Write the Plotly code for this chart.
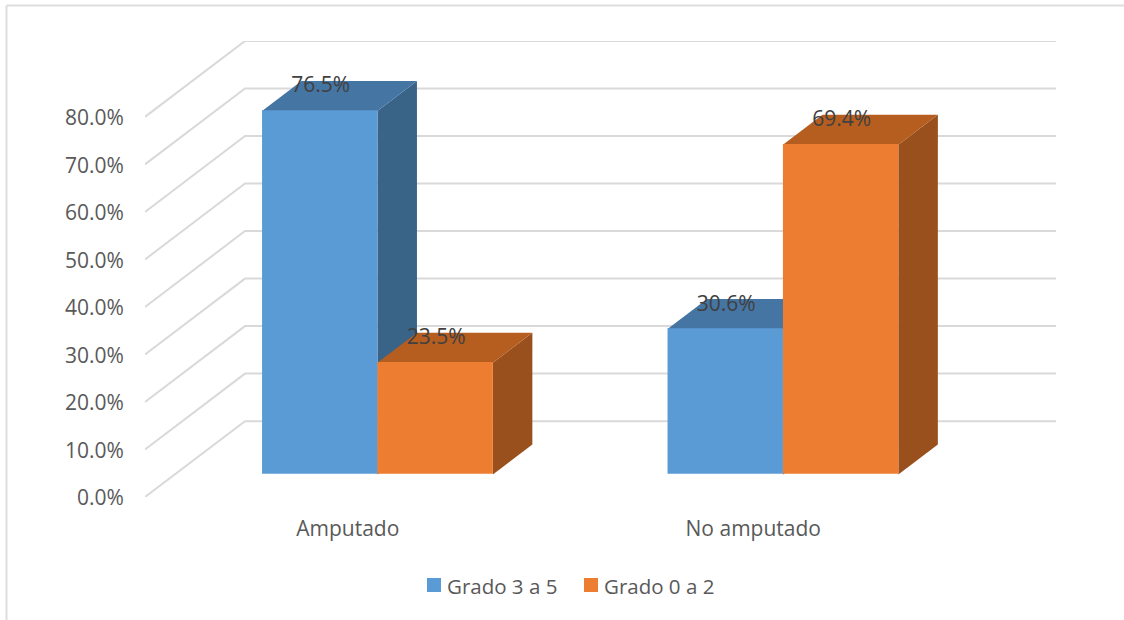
import plotly.graph_objects as go

categories = ["Amputado", "No amputado"]
series_names = ["Grado 3 a 5", "Grado 0 a 2"]
grado_3_a_5 = [76.5, 30.6]
grado_0_a_2 = [23.5, 69.4]
y_ticks = [0, 10, 20, 30, 40, 50, 60, 70, 80]

front_colors = ["#5B9BD5", "#ED7D31"]
side_colors = ["#396387", "#99501C"]
top_colors = ["#4575A3", "#B55E20"]
GRID = "#D9D9D9"
AXIS_TEXT = "#595959"
LABEL_TEXT = "#404040"
FONT = "Open Sans"

# Oblique projection: one unit of depth moves a point right and up on the axes.
DEPTH_X = 100 / 405.5
DEPTH_Y = 76 / 47.6 * 10
BAR_FRONT = 0.297
BAR_BACK = 0.692
BAR_WIDTH = 115.4 / 405.5
X_RANGE = [-0.5, 1.5 + DEPTH_X]
Y_RANGE = [0, 80 + DEPTH_Y]

PLOT_LEFT, PLOT_RIGHT, PLOT_TOP, PLOT_BOTTOM = 145, 1056, 41, 497


def paper_x(px):
    return (px - PLOT_LEFT) / (PLOT_RIGHT - PLOT_LEFT)


def paper_y(py):
    return (PLOT_BOTTOM - py) / (PLOT_BOTTOM - PLOT_TOP)


def project(x, value, depth):
    return x + depth * DEPTH_X, value + depth * DEPTH_Y


fig = go.Figure()

# Wall and floor gridlines
for tick in y_ticks:
    px0, py0 = project(-0.5, tick, 0)
    px1, py1 = project(-0.5, tick, 1)
    px2, py2 = project(1.5, tick, 1)
    fig.add_trace(go.Scatter(
        x=[px0, px1, px2], y=[py0, py1, py2], mode="lines",
        line=dict(color=GRID, width=2), showlegend=False, hoverinfo="skip",
    ))


def box_faces(x_left, value, index):
    x_right = x_left + BAR_WIDTH
    top = [project(x_left, value, BAR_FRONT), project(x_right, value, BAR_FRONT),
           project(x_right, value, BAR_BACK), project(x_left, value, BAR_BACK)]
    side = [project(x_right, 0, BAR_FRONT), project(x_right, value, BAR_FRONT),
            project(x_right, value, BAR_BACK), project(x_right, 0, BAR_BACK)]
    for corners, color in ((side, side_colors[index]), (top, top_colors[index])):
        xs, ys = zip(*corners)
        fig.add_trace(go.Scatter(
            x=list(xs) + [xs[0]], y=list(ys) + [ys[0]], mode="lines",
            fill="toself", fillcolor=color, line=dict(width=0),
            showlegend=False, hoverinfo="skip",
        ))


# Side and top faces, left series first so the right one sits over it
for pos in range(len(categories)):
    box_faces(pos - BAR_WIDTH, grado_3_a_5[pos], 0)
    box_faces(pos, grado_0_a_2[pos], 1)

# Front faces live on an overlaid subplot so they cover the faces behind them
front_x = [pos + BAR_FRONT * DEPTH_X for pos in range(len(categories))]
front_base = 23.3 / 4.75
for index, values in enumerate((grado_3_a_5, grado_0_a_2)):
    fig.add_trace(go.Bar(
        x=front_x, y=values, base=front_base, name=series_names[index],
        marker=dict(color=front_colors[index], line=dict(width=0)),
        xaxis="x2", yaxis="y2", hoverinfo="skip", showlegend=False,
    ))

# Value labels sit on the top face of each box
for offset, values in ((-BAR_WIDTH / 2, grado_3_a_5), (BAR_WIDTH / 2, grado_0_a_2)):
    fig.add_trace(go.Scatter(
        x=[pos + offset + BAR_FRONT * DEPTH_X + 1 / 405.5 for pos in range(len(categories))],
        y=[v + front_base + 23 / 4.75 for v in values],
        mode="text", text=[f"{v:.1f}%" for v in values], textposition="middle center",
        textfont=dict(family=FONT, size=21, color=LABEL_TEXT),
        xaxis="x2", yaxis="y2", showlegend=False, hoverinfo="skip", cliponaxis=False,
    ))

# Key below the plot: colour squares with their series names
key_shapes = []
key_annotations = []
for name, color, square_left in zip(series_names, front_colors, (427, 584)):
    key_shapes.append(dict(
        type="rect", xref="paper", yref="paper",
        x0=paper_x(square_left), x1=paper_x(square_left + 14),
        y0=paper_y(592), y1=paper_y(578),
        fillcolor=color, line=dict(width=0),
    ))
    key_annotations.append(dict(
        text=name, xref="paper", yref="paper", showarrow=False,
        x=paper_x(square_left + 19), xanchor="left",
        y=paper_y(586), yanchor="middle",
        font=dict(family=FONT, size=20.5, color=AXIS_TEXT),
        borderpad=0,
    ))

# Frame runs along the top and left edges of the chart area
frame_shapes = [
    dict(type="line", xref="paper", yref="paper", layer="below",
         x0=paper_x(6.5), x1=paper_x(6.5), y0=paper_y(620), y1=paper_y(5.5),
         line=dict(color="#DEDEDE", width=2)),
    dict(type="line", xref="paper", yref="paper", layer="below",
         x0=paper_x(6.5), x1=paper_x(1124), y0=paper_y(5.5), y1=paper_y(5.5),
         line=dict(color="#DEDEDE", width=2)),
]

hidden = dict(visible=False, fixedrange=True)
fig.update_layout(
    width=1124, height=620,
    margin=dict(l=PLOT_LEFT, r=1124 - PLOT_RIGHT, t=PLOT_TOP, b=620 - PLOT_BOTTOM),
    paper_bgcolor="white", plot_bgcolor="rgba(0,0,0,0)",
    barmode="group", bargap=1 - 2 * BAR_WIDTH, bargroupgap=0,
    font=dict(family=FONT, size=21, color=AXIS_TEXT),
    showlegend=False,
    xaxis=dict(
        range=X_RANGE, tickmode="array", tickvals=list(range(len(categories))),
        ticktext=categories, showgrid=False, zeroline=False, showline=False,
        ticks="outside", ticklen=13, tickcolor="rgba(0,0,0,0)",
        tickfont=dict(family=FONT, size=21, color=AXIS_TEXT),
    ),
    yaxis=dict(
        range=Y_RANGE, tickmode="array", tickvals=y_ticks,
        ticktext=[f"{t:.1f}%" for t in y_ticks], showgrid=False, zeroline=False,
        showline=False, ticks="outside", ticklen=16, tickcolor="rgba(0,0,0,0)",
        ticklabelshift=1,
        tickfont=dict(family=FONT, size=21, color=AXIS_TEXT),
    ),
    xaxis2=dict(range=X_RANGE, overlaying="x", **hidden),
    yaxis2=dict(range=Y_RANGE, overlaying="y", **hidden),
    shapes=frame_shapes + key_shapes,
    annotations=key_annotations,
)

fig.write_html("out.html")
